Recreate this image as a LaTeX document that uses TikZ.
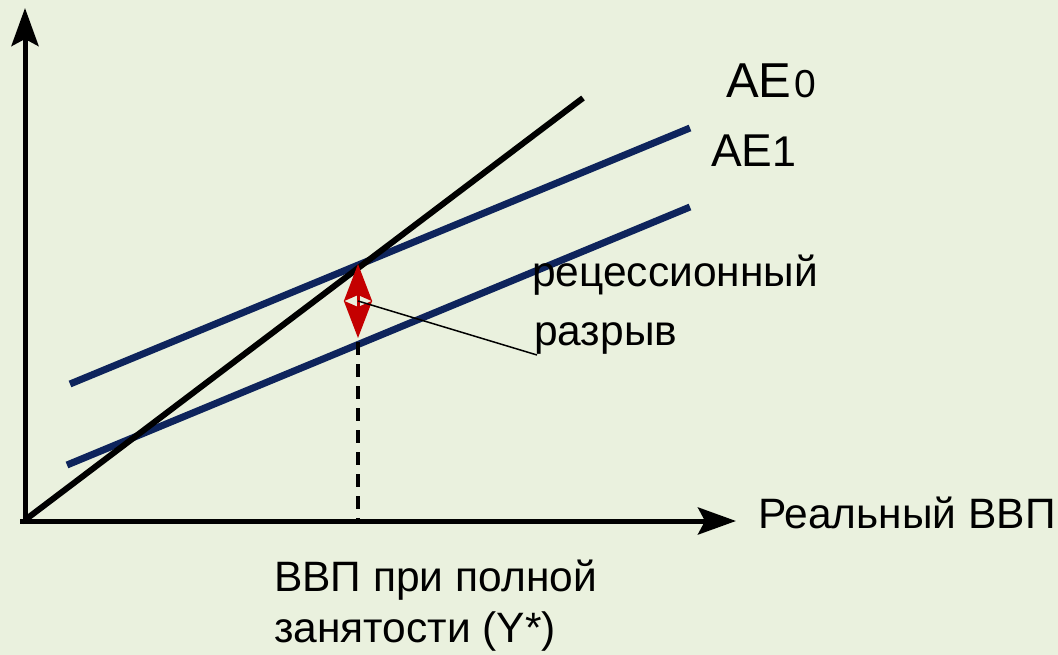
\documentclass[tikz,border=0pt]{standalone}
\usepackage{fontspec}
\setmainfont{Liberation Sans}
\usetikzlibrary{arrows.meta}
\definecolor{bg}{RGB}{234,241,222}
\definecolor{navy}{RGB}{14,36,92}
\definecolor{gapred}{RGB}{196,0,0}
\begin{document}
\begin{tikzpicture}[x=1pt,y=-1pt,
  axis/.style={line width=5pt,-{Stealth[length=38pt,width=27pt,inset=7pt]}},
  demand/.style={line width=7pt,navy},
  income/.style={line width=6pt,black},
  guide/.style={line width=4pt,black,dash pattern=on 13pt off 9pt},
  gap/.style={line width=3pt,gapred,{Stealth[length=37pt,width=28pt,inset=6pt]}-{Stealth[length=37pt,width=28pt,inset=6pt]}},
  leader/.style={line width=1.5pt,black},
  lbl/.style={anchor=base west,inner sep=0pt,font=\fontsize{42.5}{48}\selectfont}]
\useasboundingbox (0,0) rectangle (1058,655);
\fill[bg] (0,0) rectangle (1058,655);
% axes
\coordinate (ybot) at (25,524);
\coordinate (ytip) at (25,8);
\coordinate (xleft) at (20,521);
\coordinate (xtip) at (736,521);
\draw[axis] (ybot) -- (ytip);
\draw[axis] (xleft) -- (xtip);
% lines
\coordinate (O) at (25,520);
\coordinate (B) at (583,98);
\coordinate (U1) at (70,384);
\coordinate (U2) at (690,128);
\coordinate (L1) at (67,465);
\coordinate (L2) at (690,207);
\draw[demand] (U1) -- (U2);
\draw[demand] (L1) -- (L2);
\draw[income] (O) -- (B);
% dashed
\coordinate (dtop) at (358,342);
\coordinate (dbot) at (358,519);
\draw[guide] (dtop) -- (dbot);
% gap arrow
\coordinate (gtop) at (358,264);
\coordinate (gbot) at (358,338);
\draw[gap] (gbot) -- (gtop);
\coordinate (lstart) at (358,301);
\coordinate (lend) at (537,355);
\draw[leader] (lstart) -- (lend);
% labels
\node[lbl,font=\fontsize{49}{52}\selectfont] (ae0) at (726,98) {AE\kern3pt{\fontsize{39}{42}\selectfont 0}};
\node[lbl,font=\fontsize{46}{50}\selectfont] (ae1) at (711,167) {AE{\fontsize{43}{46}\selectfont 1}};
\node[lbl] (rec1) at (532,287) {рецессионный};
\node[lbl] (rec2) at (534,345) {разрыв};
\node[lbl] (xlab) at (758,528) {Реальный ВВП};
\node[lbl] (y1) at (274,591) {ВВП при полной};
\node[lbl] (y2) at (274,642) {занятости (Y*)};
\end{tikzpicture}
\end{document}
